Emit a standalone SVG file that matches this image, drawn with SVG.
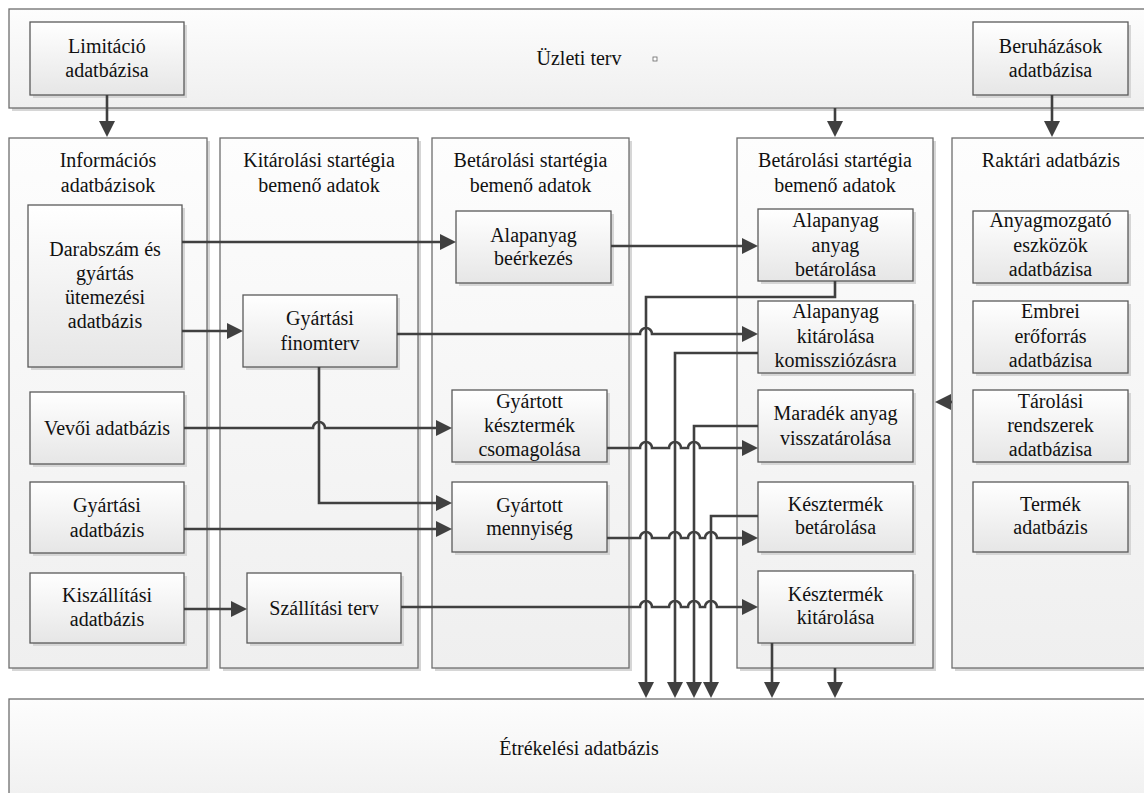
<svg xmlns="http://www.w3.org/2000/svg" width="1144" height="793" viewBox="0 0 1144 793" font-family="'Liberation Serif', 'DejaVu Serif', serif">
<defs>
<linearGradient id="gBox" x1="0" y1="0" x2="0" y2="1"><stop offset="0" stop-color="#ffffff"/><stop offset="1" stop-color="#e6e6e6"/></linearGradient>
<linearGradient id="gPanel" x1="0" y1="0" x2="0" y2="1"><stop offset="0" stop-color="#fdfdfd"/><stop offset="1" stop-color="#efefef"/></linearGradient>
<marker id="arr" markerUnits="userSpaceOnUse" markerWidth="17" markerHeight="17" refX="12" refY="8" orient="auto"><path d="M0,0 L16,8 L0,16 z" fill="#404040"/></marker>
<style>
.sh{fill:#d6d6d6}
.panel{fill:url(#gPanel);stroke:#6e6e6e;stroke-width:1.3}
.box{fill:url(#gBox);stroke:#5a5a5a;stroke-width:1.3}
text{font-family:'Liberation Serif','DejaVu Serif',serif;font-size:20px;fill:#111;text-anchor:middle}
.c{fill:none;stroke:#404040;stroke-width:2.6}
.ca{fill:none;stroke:#404040;stroke-width:2.6;marker-end:url(#arr)}
</style>
</defs>
<rect width="1144" height="793" fill="#ffffff"/>

<g id="uzleti-terv">
<rect class="sh" x="12" y="12" width="1145" height="99"/>
<rect class="panel" x="9" y="9" width="1145" height="99"/>
<text x="579" y="65">Üzleti terv</text>
<rect x="653" y="57" width="4" height="4" fill="#fff" stroke="#666" stroke-width="0.8"/>
</g>
<g id="limitacio">
<rect class="sh" x="33" y="25" width="154" height="73"/>
<rect class="box" x="30" y="22" width="154" height="73"/>
<text x="107" y="53">Limitáció</text><text x="107" y="77">adatbázisa</text>
</g>
<g id="beruhazasok">
<rect class="sh" x="976" y="25" width="155" height="73"/>
<rect class="box" x="973" y="22" width="155" height="73"/>
<text x="1050.5" y="53">Beruházások</text><text x="1050.5" y="77">adatbázisa</text>
</g>

<g id="panel-informacios">
<rect class="sh" x="12" y="141" width="198" height="530"/>
<rect class="panel" x="9" y="138" width="198" height="530"/>
<text x="108" y="167">Információs</text><text x="108" y="192">adatbázisok</text>
</g>
<g id="panel-kitarolasi">
<rect class="sh" x="223" y="141" width="198" height="530"/>
<rect class="panel" x="220" y="138" width="198" height="530"/>
<text x="319" y="167">Kitárolási startégia</text><text x="319" y="192">bemenő adatok</text>
</g>
<g id="panel-betarolasi-1">
<rect class="sh" x="435" y="141" width="197" height="530"/>
<rect class="panel" x="432" y="138" width="197" height="530"/>
<text x="530.5" y="167">Betárolási startégia</text><text x="530.5" y="192">bemenő adatok</text>
</g>
<g id="panel-betarolasi-2">
<rect class="sh" x="740" y="141" width="196" height="530"/>
<rect class="panel" x="737" y="138" width="196" height="530"/>
<text x="835" y="167">Betárolási startégia</text><text x="835" y="192">bemenő adatok</text>
</g>
<g id="panel-raktari">
<rect class="sh" x="955" y="141" width="200" height="530"/>
<rect class="panel" x="952" y="138" width="200" height="530"/>
<text x="1051" y="167">Raktári adatbázis</text>
</g>

<g id="ertekelesi">
<rect class="panel" x="9" y="699" width="1145" height="110"/>
<text x="579" y="755">Étrékelési adatbázis</text>
</g>

<g id="darabszam">
<rect class="sh" x="31" y="208" width="154" height="162"/>
<rect class="box" x="28" y="205" width="154" height="162"/>
<text x="105" y="256">Darabszám és</text><text x="105" y="280">gyártás</text><text x="105" y="304">ütemezési</text><text x="105" y="328">adatbázis</text>
</g>
<g id="vevoi">
<rect class="sh" x="33" y="395" width="154" height="72"/>
<rect class="box" x="30" y="392" width="154" height="72"/>
<text x="107" y="435">Vevői adatbázis</text>
</g>
<g id="gyartasi-adatbazis">
<rect class="sh" x="33" y="485" width="154" height="71"/>
<rect class="box" x="30" y="482" width="154" height="71"/>
<text x="107" y="512">Gyártási</text><text x="107" y="537">adatbázis</text>
</g>
<g id="kiszallitasi">
<rect class="sh" x="33" y="576" width="154" height="70"/>
<rect class="box" x="30" y="573" width="154" height="70"/>
<text x="107" y="602">Kiszállítási</text><text x="107" y="626">adatbázis</text>
</g>
<g id="finomterv">
<rect class="sh" x="246" y="298" width="154" height="72"/>
<rect class="box" x="243" y="295" width="154" height="72"/>
<text x="320" y="325">Gyártási</text><text x="320" y="350">finomterv</text>
</g>
<g id="szallitasi-terv">
<rect class="sh" x="250" y="576" width="154" height="70"/>
<rect class="box" x="247" y="573" width="154" height="70"/>
<text x="324" y="615">Szállítási terv</text>
</g>
<g id="alapanyag-beerkezes">
<rect class="sh" x="459" y="214" width="155" height="72"/>
<rect class="box" x="456" y="211" width="155" height="72"/>
<text x="533.5" y="242">Alapanyag</text><text x="533.5" y="265">beérkezés</text>
</g>
<g id="csomagolas">
<rect class="sh" x="455" y="393" width="155" height="72"/>
<rect class="box" x="452" y="390" width="155" height="72"/>
<text x="529.5" y="408">Gyártott</text><text x="529.5" y="432">késztermék</text><text x="529.5" y="456">csomagolása</text>
</g>
<g id="mennyiseg">
<rect class="sh" x="455" y="485" width="155" height="70"/>
<rect class="box" x="452" y="482" width="155" height="70"/>
<text x="529.5" y="512">Gyártott</text><text x="529.5" y="535">mennyiség</text>
</g>
<g id="alapanyag-betarolasa">
<rect class="sh" x="761" y="212" width="155" height="72"/>
<rect class="box" x="758" y="209" width="155" height="72"/>
<text x="835.5" y="227">Alapanyag</text><text x="835.5" y="252">anyag</text><text x="835.5" y="276">betárolása</text>
</g>
<g id="alapanyag-kitarolasa">
<rect class="sh" x="761" y="304" width="155" height="72"/>
<rect class="box" x="758" y="301" width="155" height="72"/>
<text x="835.5" y="318">Alapanyag</text><text x="835.5" y="343">kitárolása</text><text x="835.5" y="367">komissziózásra</text>
</g>
<g id="maradek">
<rect class="sh" x="761" y="393" width="155" height="72"/>
<rect class="box" x="758" y="390" width="155" height="72"/>
<text x="835.5" y="420">Maradék anyag</text><text x="835.5" y="445">visszatárolása</text>
</g>
<g id="kesztermek-betarolasa">
<rect class="sh" x="761" y="485" width="155" height="70"/>
<rect class="box" x="758" y="482" width="155" height="70"/>
<text x="835.5" y="511">Késztermék</text><text x="835.5" y="534">betárolása</text>
</g>
<g id="kesztermek-kitarolasa">
<rect class="sh" x="761" y="574" width="155" height="72"/>
<rect class="box" x="758" y="571" width="155" height="72"/>
<text x="835.5" y="601">Késztermék</text><text x="835.5" y="624">kitárolása</text>
</g>
<g id="anyagmozgato">
<rect class="sh" x="976" y="214" width="155" height="72"/>
<rect class="box" x="973" y="211" width="155" height="72"/>
<text x="1050.5" y="227">Anyagmozgató</text><text x="1050.5" y="252">eszközök</text><text x="1050.5" y="276">adatbázisa</text>
</g>
<g id="embrei">
<rect class="sh" x="976" y="304" width="155" height="72"/>
<rect class="box" x="973" y="301" width="155" height="72"/>
<text x="1050.5" y="318">Embrei</text><text x="1050.5" y="343">erőforrás</text><text x="1050.5" y="367">adatbázisa</text>
</g>
<g id="tarolasi">
<rect class="sh" x="976" y="393" width="155" height="72"/>
<rect class="box" x="973" y="390" width="155" height="72"/>
<text x="1050.5" y="408">Tárolási</text><text x="1050.5" y="432">rendszerek</text><text x="1050.5" y="456">adatbázisa</text>
</g>
<g id="termek">
<rect class="sh" x="976" y="485" width="155" height="70"/>
<rect class="box" x="973" y="482" width="155" height="70"/>
<text x="1050.5" y="511">Termék</text><text x="1050.5" y="534">adatbázis</text>
</g>

<g id="connectors">
<path class="ca" d="M107,95 V133"/>
<path class="ca" d="M835,108 V133"/>
<path class="ca" d="M1052,95 V133"/>
<path class="ca" d="M182,242 H452"/>
<path class="ca" d="M182,331 H239"/>
<path class="ca" d="M611,246 H754"/>
<path class="ca" d="M397,334 H640 A6,6 0 0 1 652,334 H754"/>
<path class="ca" d="M319,367 V503 H448"/>
<path class="ca" d="M184,428 H313 A6,6 0 0 1 325,428 H448"/>
<path class="ca" d="M184,529 H448"/>
<path class="ca" d="M184,609 H243"/>
<path class="ca" d="M401,607 H640 A6,6 0 0 1 652,607 H669 A6,6 0 0 1 681,607 H688 A6,6 0 0 1 700,607 H705 A6,6 0 0 1 717,607 H754"/>
<path class="ca" d="M607,448 H640 A6,6 0 0 1 652,448 H669 A6,6 0 0 1 681,448 H688 A6,6 0 0 1 700,448 H754"/>
<path class="ca" d="M607,538 H640 A6,6 0 0 1 652,538 H669 A6,6 0 0 1 681,538 H688 A6,6 0 0 1 700,538 H705 A6,6 0 0 1 717,538 H754"/>
<path class="ca" d="M835,281 V297 H646 V694"/>
<path class="ca" d="M758,353 H675 V694"/>
<path class="ca" d="M758,426 H694 V694"/>
<path class="ca" d="M758,516 H711 V694"/>
<path class="ca" d="M772,643 V694"/>
<path class="ca" d="M835,668 V694"/>
<path class="ca" d="M952,402 H939"/>
</g>
</svg>
